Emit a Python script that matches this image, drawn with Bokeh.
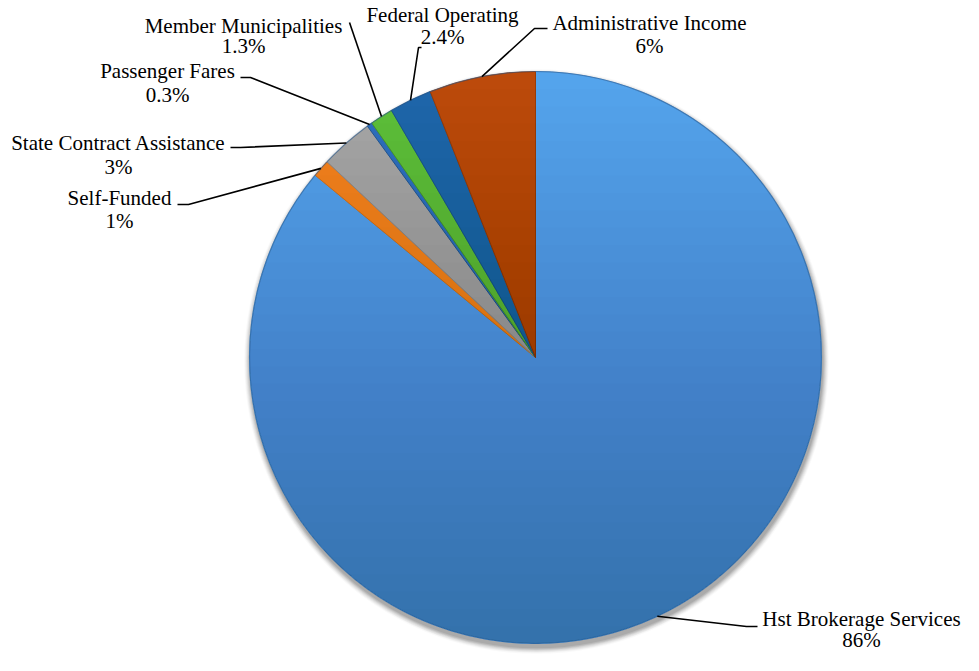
import numpy as np
from bokeh.plotting import figure
from bokeh.models import Range1d, ColumnDataSource
from bokeh.core.properties import value
from bokeh.embed import file_html
from bokeh.resources import INLINE

# ---- data ----
categories = ["Hst Brokerage Services", "Self-Funded", "State Contract Assistance",
              "Passenger Fares", "Member Municipalities", "Federal Operating",
              "Administrative Income"]
shares = [86.0, 1.0, 3.0, 0.3, 1.3, 2.4, 6.0]
pct_labels = ["86%", "1%", "3%", "0.3%", "1.3%", "2.4%", "6%"]
colors = ["#54A4EC", "#F58220", "#A8A8A8", "#2F6FC0", "#5DC03A", "#1F66AB", "#BC4A0B"]
edge_colors = ["#4A90D4", "#D8701A", "#909090", "#24589A", "#4A9E2E", "#1A5590", "#9A3C08"]

# ---- layout (pixel coordinates from the top-left) ----
W, HGT = 963, 655
def Y(img_y):
    return HGT - img_y

TXT_SHIFT = 7  # compensates the renderer's baseline placement

CX, CY, R = 535, Y(357), 286
# label anchor: (center x, visual baseline of first line, of second line)
label_pos = [(861, 625, 646), (119, 204, 227), (118, 149, 173), (167, 77, 101),
             (243, 32, 52), (442, 21, 43), (649, 29, 52)]
# leader: points on the label side; the line continues to the slice edge
leader_pts = [
    [(757, 626), (746, 626)],
    [(177, 204), (188, 204)],
    [(230, 147), (240, 147)],
    [(240, 77), (250, 77)],
    [(349, 22)],
    [(421, 47), (418, 47)],
    [(547, 28), (534, 28)],
]

vals = np.array(shares)
frac = vals / vals.sum()
cum_after = np.cumsum(frac)
cum_before = cum_after - frac
start = np.pi / 2 - 2 * np.pi * cum_after
end = np.pi / 2 - 2 * np.pi * cum_before
mid = (start + end) / 2

p = figure(width=W, height=HGT, x_range=Range1d(0, W), y_range=Range1d(0, HGT),
           x_axis_type=None, y_axis_type=None, toolbar_location=None,
           output_backend="svg", min_border=0)
p.outline_line_color = None
p.grid.visible = False
p.background_fill_color = "white"

# soft shadow below the pie
for k, a in zip(range(7, 0, -1), [0.025, 0.035, 0.045, 0.055, 0.065, 0.075, 0.085]):
    p.circle(x=[CX + 1], y=[CY - 4], radius=R + k * 0.9, fill_color="#000000",
             fill_alpha=a, line_color=None)

src = ColumnDataSource(dict(start=start, end=end, color=colors, edge=edge_colors))
p.wedge(x=CX, y=CY, radius=R, start_angle="start", end_angle="end", source=src,
        fill_color="color", line_color="edge", line_width=1)

# vertical shading (darker toward the bottom), built from nested circle caps
nband = 32
for k in range(1, nband + 1):
    ytop = CY + R - 2 * R * k / (nband + 1)
    th0 = np.arcsin(np.clip((ytop - CY) / R, -1, 1))
    th = np.linspace(th0, -np.pi - th0, 120)
    xs = list(CX + R * np.cos(th))
    ys = list(CY + R * np.sin(th))
    p.patch(xs, ys, fill_color="#001030", fill_alpha=0.008, line_color=None)

# rim
p.circle(x=[CX], y=[CY], radius=R, fill_color=None, line_color="#2E5F95",
         line_alpha=0.5, line_width=1.2)

# leaders
for i in range(len(categories)):
    ex = CX + R * np.cos(mid[i])
    ey = CY + R * np.sin(mid[i])
    xs = [pt[0] for pt in leader_pts[i]] + [ex]
    ys = [Y(pt[1]) for pt in leader_pts[i]] + [ey]
    p.line(xs, ys, line_color="black", line_width=1.6)

lx = [lp[0] for lp in label_pos]
ly1 = [Y(lp[1] - TXT_SHIFT) for lp in label_pos]
ly2 = [Y(lp[2] - TXT_SHIFT) for lp in label_pos]
p.text(x=lx, y=ly1, text=categories, text_font=value("Liberation Serif"),
       text_font_size="21px", text_align="center", text_baseline="alphabetic",
       text_color="#000000")
p.text(x=lx, y=ly2, text=pct_labels, text_font=value("Liberation Serif"),
       text_font_size="21px", text_align="center", text_baseline="alphabetic",
       text_color="#000000")

open("out.html", "w").write(file_html(p, INLINE))
